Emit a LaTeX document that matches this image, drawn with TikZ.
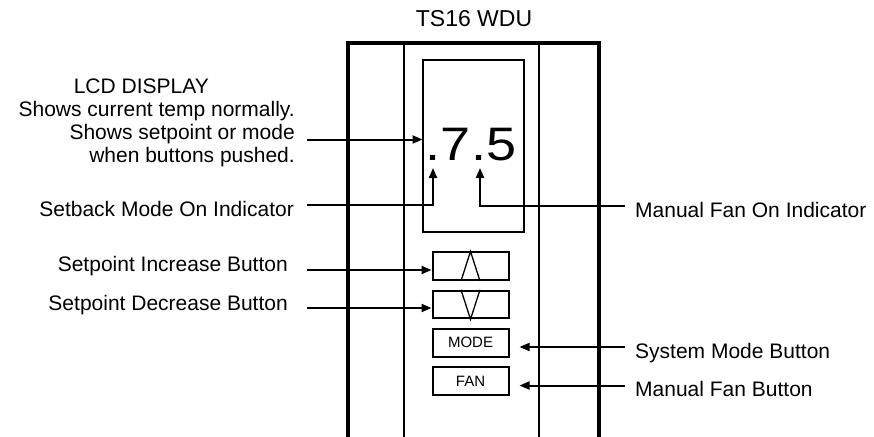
\documentclass[tikz,border=0pt]{standalone}
\usepackage{fontspec}
\setmainfont{Liberation Sans}
\newfontfamily\lcdfont[FakeStretch=1.15]{Liberation Sans}
\usetikzlibrary{arrows.meta}

\tikzset{
  housing/.style={line width=4pt},
  divider/.style={line width=1.3pt},
  lbl/.style={font=\fontsize{21}{23.3}\selectfont, inner sep=0pt},
  btn/.style={draw, line width=2pt, minimum width=76pt, minimum height=27.5pt,
    inner sep=0pt, font=\fontsize{15}{18}\selectfont},
  arr/.style={line width=2pt, -{Triangle[length=10pt,width=8pt]}},
}

\begin{document}
\begin{tikzpicture}[x=1pt,y=-1pt]
  \useasboundingbox (0,0) rectangle (874,436);
  % housing of the unit
  \draw[housing] (348,437) -- (348,43.5) -- (598.5,43.5) -- (598.5,437);
  \draw[divider] (404,43.5) -- (404,437) (539,43.5) -- (539,437);
  \node[font=\fontsize{23}{26}\selectfont, inner sep=0pt, anchor=base] (title) at (474,27) {TS16 WDU};
  % display
  \node[draw, line width=2pt, minimum width=101.8pt, minimum height=172.2pt, outer sep=0pt] (lcd) at (473.4,145.6) {};
  \node[font=\lcdfont\fontsize{47}{50}\selectfont, inner sep=0pt, anchor=base] (digits) at (471,160) {.7.5};
  \coordinate (sbdot) at (433,168);
  \coordinate (fandot) at (480,168);
  % buttons
  \foreach \n/\t [count=\i] in {up/{},dn/{},mode/MODE,fan/FAN}
    \node[btn] (\n) at (470.5,{266.2+38.3*(\i-1)}) {\t};
  \draw[divider] ([xshift=-9.5pt]up.south) -- (up.north) -- ([xshift=9.5pt]up.south);
  \draw[divider] ([xshift=-9.5pt]dn.north) -- (dn.south) -- ([xshift=9.5pt]dn.north);
  % labels, left
  \node[lbl, align=right, anchor=north east] (lcdtxt) at (295,78.2)
    {LCD DISPLAY\hspace*{86pt}\\Shows current temp normally.\\Shows setpoint or mode\\when buttons pushed.};
  \node[lbl, anchor=base east] (sbtxt) at (294,216.7) {Setback Mode On Indicator};
  \node[lbl, anchor=base east] (inctxt) at (288,271.7) {Setpoint Increase Button};
  \node[lbl, anchor=base east] (dectxt) at (288,310.7) {Setpoint Decrease Button};
  % labels, right
  \node[lbl, anchor=base west] (fontxt) at (635,217) {Manual Fan On Indicator};
  \node[lbl, anchor=base west] (systxt) at (635,358) {System Mode Button};
  \node[lbl, anchor=base west] (fantxt) at (635,396.7) {Manual Fan Button};
  % arrows
  \coordinate (lcdstart) at (307,139.5);
  \coordinate (sbstart) at (307,205);
  \coordinate (incstart) at (307,270);
  \coordinate (decstart) at (307,308);
  \coordinate (fonstart) at (625,205.5);
  \coordinate (sysstart) at (625,347);
  \coordinate (fanstart) at (625,385.5);
  \draw[arr] (lcdstart) -- (lcdstart -| lcd.west);
  \draw[arr] (sbstart) -| (sbdot);
  \draw[arr] (incstart) -- (incstart -| up.west);
  \draw[arr] (decstart) -- (decstart -| dn.west);
  \draw[arr] (fonstart) -| (fandot);
  \draw[arr] (sysstart) -- ([xshift=10pt]sysstart -| mode.east);
  \draw[arr] (fanstart) -- ([xshift=10pt]fanstart -| fan.east);
\end{tikzpicture}
\end{document}
